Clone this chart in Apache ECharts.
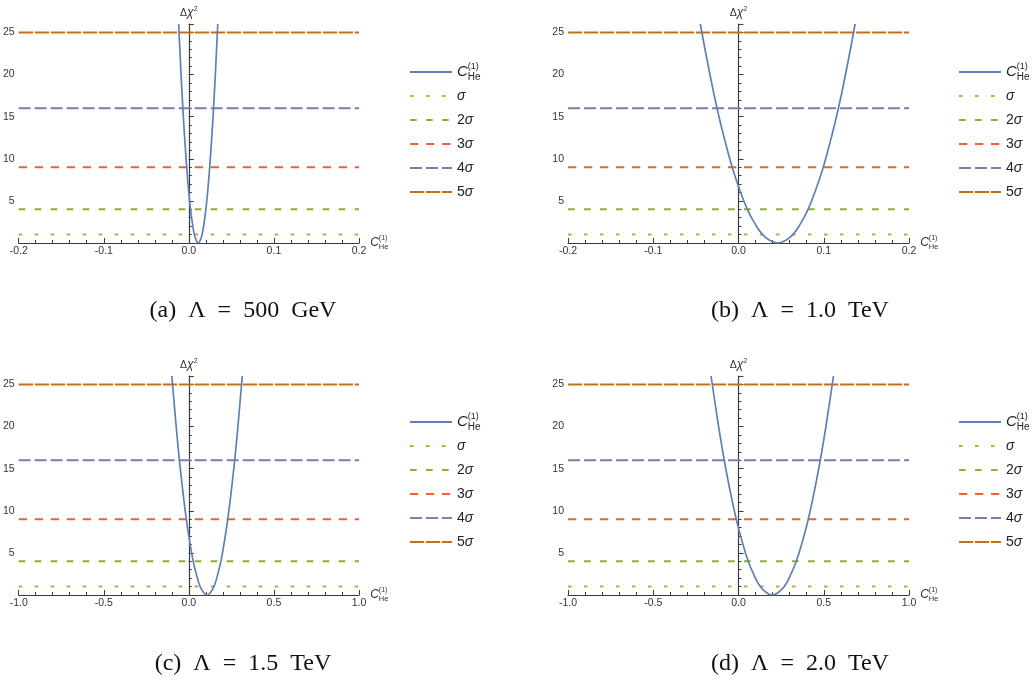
<!DOCTYPE html>
<html><head><meta charset="utf-8">
<script src="https://cdn.jsdelivr.net/npm/echarts@6/dist/echarts.min.js"></script>
<style>html,body{margin:0;padding:0;background:#fff}#c{width:1036px;height:679px}</style>
</head><body><div id="c"></div>
<script>
// ---- data ----
const xRangeSmall = [-0.2, 0.2];
const xRangeLarge = [-1.0, 1.0];
const sigmaNames = ['σ', '2σ', '3σ', '4σ', '5σ'];
const sigmaLevels = [1, 4, 9, 16, 25];
const curveName = 'C';
const captions = ['(a)  Λ  =  500  GeV', '(b)  Λ  =  1.0  TeV', '(c)  Λ  =  1.5  TeV', '(d)  Λ  =  2.0  TeV'];
const yTickLabels = [5, 10, 15, 20, 25];

const curveAx = [-0.0120, -0.0093, -0.0070, -0.0048, -0.0025, -0.0003, 0.0020, 0.0043, 0.0065, 0.0088, 0.0110, 0.0133, 0.0155, 0.0178, 0.0200, 0.0223, 0.0245, 0.0268, 0.0290, 0.0313, 0.0340];
const curveAy = [26.0, 20.3, 16.0, 12.3, 9.0, 6.3, 4.0, 2.3, 1.0, 0.3, 0.0, 0.3, 1.0, 2.3, 4.0, 6.3, 9.0, 12.3, 16.0, 20.3, 26.0];
const curveBx = [-0.0448, -0.0341, -0.0252, -0.0163, -0.0074, 0.0015, 0.0104, 0.0193, 0.0282, 0.0371, 0.0460, 0.0549, 0.0638, 0.0727, 0.0816, 0.0905, 0.0994, 0.1083, 0.1172, 0.1261, 0.1368];
const curveBy = [26.0, 20.3, 16.0, 12.3, 9.0, 6.3, 4.0, 2.3, 1.0, 0.3, 0.0, 0.3, 1.0, 2.3, 4.0, 6.3, 9.0, 12.3, 16.0, 20.3, 26.0];
const curveCx = [-0.1001, -0.0757, -0.0554, -0.0351, -0.0148, 0.0055, 0.0258, 0.0461, 0.0664, 0.0867, 0.1070, 0.1273, 0.1476, 0.1679, 0.1882, 0.2085, 0.2288, 0.2491, 0.2694, 0.2897, 0.3141];
const curveCy = [26.0, 20.3, 16.0, 12.3, 9.0, 6.3, 4.0, 2.3, 1.0, 0.3, 0.0, 0.3, 1.0, 2.3, 4.0, 6.3, 9.0, 12.3, 16.0, 20.3, 26.0];
const curveDx = [-0.1610, -0.1188, -0.0836, -0.0484, -0.0132, 0.0220, 0.0572, 0.0924, 0.1276, 0.1628, 0.1980, 0.2332, 0.2684, 0.3036, 0.3388, 0.3740, 0.4092, 0.4444, 0.4796, 0.5148, 0.5570];
const curveDy = [26.0, 20.3, 16.0, 12.3, 9.0, 6.3, 4.0, 2.3, 1.0, 0.3, 0.0, 0.3, 1.0, 2.3, 4.0, 6.3, 9.0, 12.3, 16.0, 20.3, 26.0];

// ---- styling / layout ----
const curveColor = '#5E81B5';
const sigmaColors = ['#E19C24', '#8FB032', '#EB6235', '#8778B3', '#C56E1A'];
const sigmaDashes = [[3.5, 12.5], [6.7, 9.3], [8.3, 7.7], [12, 4], [14.3, 1.7]];
const axisColor = '#3c3c3c';
const font = 'Liberation Sans, Arial, sans-serif';

const panels = [
  {grid: {left: 17, top: 24, width: 342, height: 219}, xr: xRangeSmall, step: 0.1, xs: curveAx, ys: curveAy, legend: {left: 409, top: 62}, cap: [243, 311]},
  {grid: {left: 568, top: 24, width: 341, height: 219}, xr: xRangeSmall, step: 0.1, xs: curveBx, ys: curveBy, legend: {left: 958, top: 62}, cap: [800, 311]},
  {grid: {left: 17, top: 376, width: 342, height: 219}, xr: xRangeLarge, step: 0.5, xs: curveCx, ys: curveCy, legend: {left: 409, top: 412}, cap: [243, 664]},
  {grid: {left: 568, top: 376, width: 341, height: 219}, xr: xRangeLarge, step: 0.5, xs: curveDx, ys: curveDy, legend: {left: 958, top: 412}, cap: [800, 664]}
];

const grids = [], xAxes = [], yAxes = [], series = [], legends = [], graphics = [];

const legendFmt = function (name) {
  if (name === curveName) return '{c|C}{sup|(1)}{sub|He}';
  if (name === 'σ') return '{it|σ}';
  return '{n|' + name.slice(0, -1) + '}{it|σ}';
};

panels.forEach(function (p, i) {
  grids.push(Object.assign({}, p.grid));
  xAxes.push({
    type: 'value', gridIndex: i, min: p.xr[0], max: p.xr[1], interval: p.step,
    name: '{c|C}{sup|(1)}{sub|He}', nameLocation: 'end', nameGap: 9,
    nameTextStyle: {rich: {
      c: {fontFamily: font, fontStyle: 'italic', fontSize: 12, color: '#333', lineHeight: 16},
      sup: {fontFamily: font, fontSize: 7, color: '#333', verticalAlign: 'top', lineHeight: 8, width: 0, align: 'left'},
      sub: {fontFamily: font, fontSize: 7.5, color: '#333', verticalAlign: 'bottom', lineHeight: 8}
    }},
    axisLine: {onZero: true, lineStyle: {color: axisColor, width: 1.2}},
    axisTick: {inside: true, length: 5, lineStyle: {color: axisColor}},
    minorTick: {show: true, splitNumber: 5, length: 3, lineStyle: {color: axisColor}},
    splitLine: {show: false},
    axisLabel: {fontFamily: font, fontSize: 10.5, color: '#333', margin: 3,
      formatter: function (v) { return v.toFixed(1); }}
  });
  yAxes.push({
    type: 'value', gridIndex: i, min: 0, max: 26, interval: 5, position: 'left',
    name: '{d|Δ}{x|χ}{s|2}', nameLocation: 'end', nameGap: 4,
    nameTextStyle: {rich: {
      d: {fontFamily: font, fontSize: 10.5, color: '#333', lineHeight: 14},
      x: {fontFamily: font, fontSize: 12, fontStyle: 'italic', color: '#333', lineHeight: 14},
      s: {fontFamily: font, fontSize: 7, color: '#333', verticalAlign: 'top', lineHeight: 8}
    }},
    axisLine: {onZero: true, onZeroAxisIndex: i, lineStyle: {color: axisColor, width: 1.2}},
    axisTick: {inside: true, length: 5, lineStyle: {color: axisColor}},
    splitLine: {show: false},
    axisLabel: {fontFamily: font, fontSize: 10.5, color: '#333', margin: 4,
      formatter: function (v) { return yTickLabels.indexOf(v) >= 0 ? String(v) : ''; }}
  });
  // minor ticks axis (every unit)
  yAxes.push({
    type: 'value', gridIndex: i, min: 0, max: 26, interval: 1, position: 'left',
    axisLine: {show: false, onZero: true, onZeroAxisIndex: i},
    axisTick: {inside: true, length: 3, lineStyle: {color: axisColor}},
    axisLabel: {show: false}, splitLine: {show: false}
  });

  sigmaLevels.forEach(function (lv, j) {
    series.push({
      type: 'line', name: sigmaNames[j], xAxisIndex: i, yAxisIndex: 2 * i,
      data: [[p.xr[0], lv], [p.xr[1], lv]],
      symbol: 'none', silent: true, animation: false,
      lineStyle: {color: sigmaColors[j], width: 2, type: sigmaDashes[j]},
      itemStyle: {color: sigmaColors[j]}, z: 2
    });
  });
  series.push({
    type: 'line', name: curveName, xAxisIndex: i, yAxisIndex: 2 * i,
    data: p.xs.map(function (x, k) { return [x, p.ys[k]]; }),
    symbol: 'none', smooth: true, silent: true, animation: false, clip: true,
    lineStyle: {color: curveColor, width: 1.7},
    itemStyle: {color: curveColor}, z: 3
  });

  legends.push({
    orient: 'vertical', left: p.legend.left, top: p.legend.top, padding: 0,
    data: [curveName].concat(sigmaNames),
    itemWidth: 42, itemHeight: 14, itemGap: 4, selectedMode: false,
    itemStyle: {color: 'rgba(0,0,0,0)', borderColor: 'rgba(0,0,0,0)', borderWidth: 0, opacity: 0},
    formatter: legendFmt,
    textStyle: {fontFamily: font, fontSize: 13, color: '#222', lineHeight: 20, rich: {
      c: {fontFamily: font, fontStyle: 'italic', fontSize: 15, color: '#222', lineHeight: 20},
      sup: {fontFamily: font, fontSize: 9, color: '#222', verticalAlign: 'top', lineHeight: 10, width: 0, align: 'left'},
      sub: {fontFamily: font, fontSize: 10, color: '#222', verticalAlign: 'bottom', lineHeight: 10},
      it: {fontFamily: font, fontStyle: 'italic', fontSize: 14, color: '#222', lineHeight: 20},
      n: {fontFamily: font, fontSize: 14, color: '#222', lineHeight: 20}
    }}
  });

  graphics.push({
    type: 'text', x: p.cap[0], y: p.cap[1],
    style: {text: captions[i], font: '24px "Liberation Serif", "DejaVu Serif", serif', fill: '#111',
      textAlign: 'center', textVerticalAlign: 'middle'}
  });
});

const chart = echarts.init(document.getElementById('c'), null, {renderer: 'canvas'});
chart.setOption({
  backgroundColor: '#ffffff',
  animation: false,
  grid: grids, xAxis: xAxes, yAxis: yAxes, series: series, legend: legends,
  graphic: graphics
});
</script></body></html>
